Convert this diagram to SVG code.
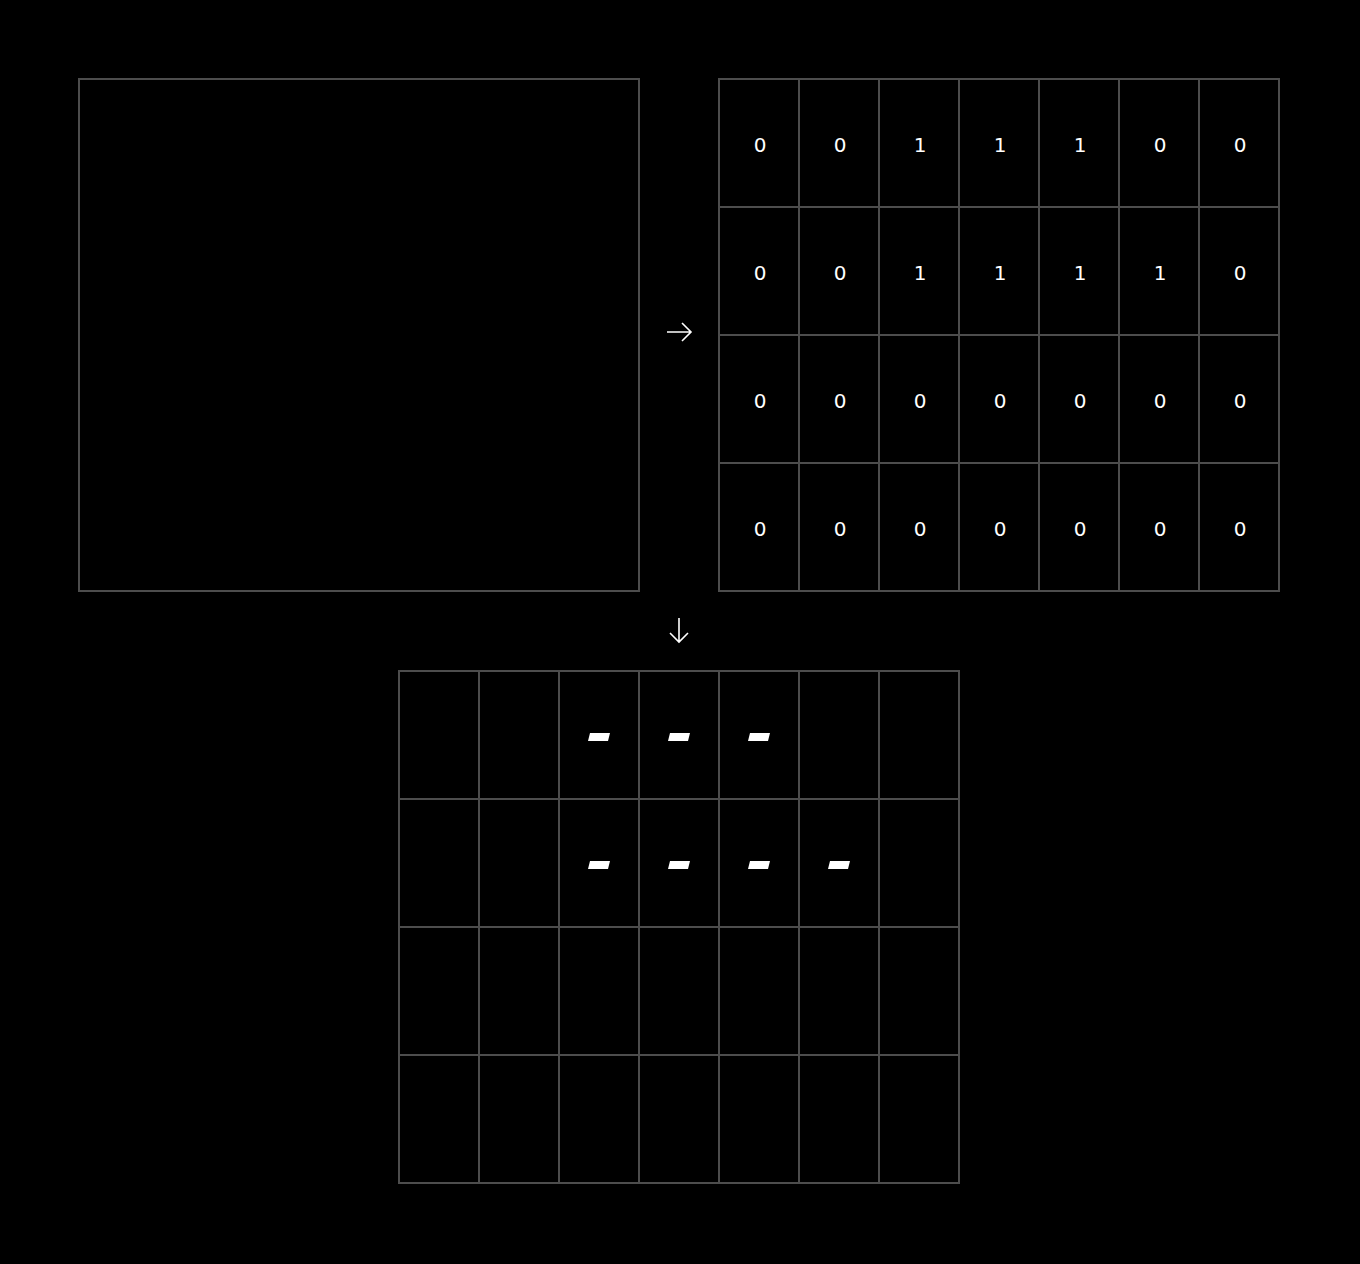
<svg xmlns="http://www.w3.org/2000/svg" xmlns:xlink="http://www.w3.org/1999/xlink" width="1360" height="1264" viewBox="0 0 1360 1264">
<style>
.grid{fill:none;stroke:#4d4d4d;stroke-width:2}
.num{font-family:"DejaVu Sans",sans-serif;font-size:20px;fill:#ffffff;text-anchor:middle}
.arrow{fill:none;stroke:#ffffff;stroke-width:1.6;stroke-linecap:butt;stroke-linejoin:miter}
.dash{fill:#ffffff}
</style>
<defs>
<polygon id="d" class="dash" points="-9,-4 11,-4 9,4 -11,4"/>
</defs>
<rect width="1360" height="1264" fill="#000000"/>
<g id="source">
<rect class="grid" x="79" y="79" width="560" height="512"/>
</g>
<g id="matrix">
<rect class="grid" x="719" y="79" width="560" height="512"/>
<path class="grid" d="M799 79V591M879 79V591M959 79V591M1039 79V591M1119 79V591M1199 79V591M719 207H1279M719 335H1279M719 463H1279"/>
<g class="num">
<text x="760" y="152">0</text><text x="840" y="152">0</text><text x="920" y="152">1</text><text x="1000" y="152">1</text><text x="1080" y="152">1</text><text x="1160" y="152">0</text><text x="1240" y="152">0</text>
<text x="760" y="280">0</text><text x="840" y="280">0</text><text x="920" y="280">1</text><text x="1000" y="280">1</text><text x="1080" y="280">1</text><text x="1160" y="280">1</text><text x="1240" y="280">0</text>
<text x="760" y="408">0</text><text x="840" y="408">0</text><text x="920" y="408">0</text><text x="1000" y="408">0</text><text x="1080" y="408">0</text><text x="1160" y="408">0</text><text x="1240" y="408">0</text>
<text x="760" y="536">0</text><text x="840" y="536">0</text><text x="920" y="536">0</text><text x="1000" y="536">0</text><text x="1080" y="536">0</text><text x="1160" y="536">0</text><text x="1240" y="536">0</text>
</g>
</g>
<g id="output">
<rect class="grid" x="399" y="671" width="560" height="512"/>
<path class="grid" d="M479 671V1183M559 671V1183M639 671V1183M719 671V1183M799 671V1183M879 671V1183M399 799H959M399 927H959M399 1055H959"/>
<use xlink:href="#d" x="599" y="737"/>
<use xlink:href="#d" x="679" y="737"/>
<use xlink:href="#d" x="759" y="737"/>
<use xlink:href="#d" x="599" y="865"/>
<use xlink:href="#d" x="679" y="865"/>
<use xlink:href="#d" x="759" y="865"/>
<use xlink:href="#d" x="839" y="865"/>
</g>
<g id="connectors">
<path class="arrow" d="M667 332H691M682 323L691 332L682 341"/>
<path class="arrow" d="M679 618V642M670 633L679 642L688 633"/>
</g>
</svg>
